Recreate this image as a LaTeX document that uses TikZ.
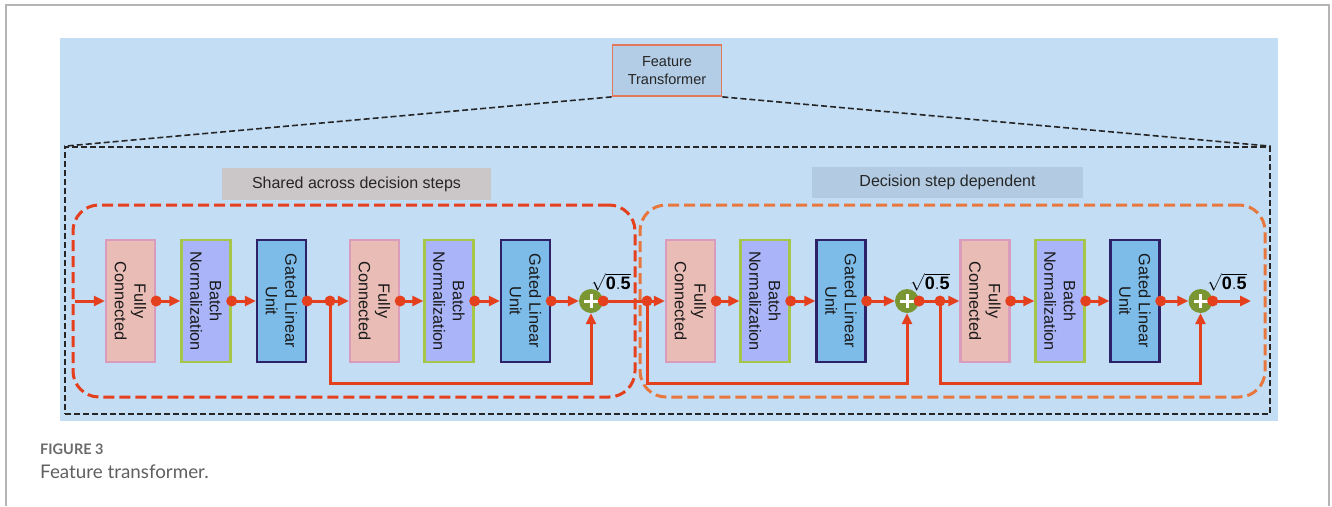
\documentclass[tikz,border=0pt]{standalone}
\usepackage{fontspec}
\setmainfont{Liberation Sans}
\newfontfamily\capfont{Lato}
\usetikzlibrary{arrows.meta,calc}

\definecolor{bgblue}{HTML}{C3DDF5}
\definecolor{ftfill}{HTML}{B3CDE6}
\definecolor{ftborder}{HTML}{E2775A}
\definecolor{sharedfill}{HTML}{CBC6C8}
\definecolor{depfill}{HTML}{B2CBE2}
\definecolor{flowred}{HTML}{E5401E}
\definecolor{grporange}{HTML}{E8773E}
\definecolor{fcfill}{HTML}{E9BDB6}
\definecolor{fcborder}{HTML}{D99CBC}
\definecolor{bnfill}{HTML}{A9B5F8}
\definecolor{bnborder}{HTML}{A6C64A}
\definecolor{glufill}{HTML}{7DBBE9}
\definecolor{gluborder}{HTML}{2D2169}
\definecolor{plusgreen}{HTML}{7A9633}
\definecolor{framegray}{HTML}{B4B4B4}
\definecolor{capgray}{HTML}{6B6B6B}

\tikzset{
  blockbase/.style={draw, line width=2.4pt, minimum width=49pt, minimum height=122pt, inner sep=0pt},
  fcbox/.style={blockbase, fill=fcfill, draw=fcborder},
  bnbox/.style={blockbase, fill=bnfill, draw=bnborder},
  glubox/.style={blockbase, fill=glufill, draw=gluborder},
  blocktext/.style={rotate=-90, align=center, font=\fontsize{16.3}{19.5}\selectfont, text=black!90},
  plusnode/.style={circle, fill=plusgreen, minimum size=24pt, inner sep=0pt,
    path picture={\draw[white, line width=3pt]
      ([xshift=5pt]path picture bounding box.west) -- ([xshift=-5pt]path picture bounding box.east)
      ([yshift=-5pt]path picture bounding box.north) -- ([yshift=5pt]path picture bounding box.south);}},
  sqrtlbl/.style={font=\fontsize{18}{21}\selectfont, inner sep=0pt},
  flow/.style={draw=flowred, line width=3pt, -{Triangle[length=11pt,width=10pt]}},
  blackdash/.style={draw=black!85, line width=1.6pt, dash pattern=on 6pt off 3pt},
  grpbox/.style={line width=3pt, dash pattern=on 11pt off 5pt, rounded corners=26pt, inner sep=0pt},
  tagbox/.style={font=\fontsize{16}{19}\selectfont, text=black!85, inner sep=0pt}
}

\newcommand{\flowdot}[1]{\fill[flowred] (#1) circle (5.5pt);}

\begin{document}
\begin{tikzpicture}[x=1pt,y=-1pt]
\useasboundingbox (0,0) rectangle (1332,506);
\fill[white] (0,0) rectangle (1332,506);

% page frame
\draw[framegray, line width=1.4pt] (6,506) -- (6,5) -- (1329,5) -- (1329,506);

% figure background
\fill[bgblue] (60,38) rectangle (1278,421);

% zoomed-out block and its expansion
\node[draw=ftborder, fill=ftfill, line width=1.8pt, minimum width=109pt, minimum height=51pt,
      align=center, font=\fontsize{14.5}{18.5}\selectfont, text=black!85, inner sep=0pt] (ft) at (667,70.5) {Feature\\Transformer};
\node[blackdash, minimum width=1205pt, minimum height=267pt, inner sep=0pt] (zoomframe) at (667.5,280.5) {};
\draw[blackdash] (ft.south west) -- (zoomframe.north west);
\draw[blackdash] (ft.south east) -- (zoomframe.north east);

% group frames
\node[grpbox, draw=flowred, minimum width=562pt, minimum height=192pt] (sharedgrp) at (354,301) {};
\node[grpbox, draw=grporange, minimum width=625pt, minimum height=192pt] (depgrp) at (952.5,301) {};

% group titles
\node[tagbox, fill=sharedfill, minimum width=269pt, minimum height=32pt] (sharedtag) at (356.5,184) {Shared across decision steps};
\node[tagbox, fill=depfill, minimum width=271pt, minimum height=31pt] (deptag) at (947.5,182.5) {Decision step dependent};

% blocks, shared part
\node[fcbox]  (fc1)  at (130.5,301) {};
\node[bnbox]  (bn1)  at (206,301) {};
\node[glubox] (glu1) at (281.5,301) {};
\node[fcbox]  (fc2)  at (374.5,301) {};
\node[bnbox]  (bn2)  at (449,301) {};
\node[glubox] (glu2) at (525.5,301) {};
\node[plusnode] (p1) at (591,301) {};

% blocks, step-dependent part
\node[fcbox]  (fc3)  at (690.5,301) {};
\node[bnbox]  (bn3)  at (765,301) {};
\node[glubox] (glu3) at (841,301) {};
\node[plusnode] (p2) at (907,301) {};
\node[fcbox]  (fc4)  at (985,301) {};
\node[bnbox]  (bn4)  at (1060,301) {};
\node[glubox] (glu4) at (1135,301) {};
\node[plusnode] (p3) at (1200.5,301) {};

% block captions
\foreach \b in {fc1,fc2,fc3,fc4} {\node[blocktext] at (\b) {Fully\\Connected};}
\foreach \b in {bn1,bn2,bn3,bn4} {\node[blocktext] at (\b) {Batch\\Normalization};}
\foreach \b in {glu1,glu2,glu3,glu4} {\node[blocktext] at (\b) {Gated Linear\\Unit};}

% scaling factors
\node[sqrtlbl] (s1) at (611,282) {$\sqrt{\mathbf{0.5}}$};
\node[sqrtlbl] (s2) at (930,282) {$\sqrt{\mathbf{0.5}}$};
\node[sqrtlbl] (s3) at (1227,282) {$\sqrt{\mathbf{0.5}}$};

% branch and end points
\coordinate (in)  at (75,301);
\coordinate (out) at (1251,301);
\coordinate (b1) at (330,301);
\coordinate (b2) at (647,301);
\coordinate (b3) at (940,301);
\coordinate (l1) at (330,383);
\coordinate (l2) at (647,383);
\coordinate (l3) at (940,383);

% main flow
\draw[flow] (in) -- (fc1.west);
\draw[flow] (fc1.east) -- (bn1.west);
\draw[flow] (bn1.east) -- (glu1.west);
\draw[flow] (glu1.east) -- (fc2.west);
\draw[flow] (fc2.east) -- (bn2.west);
\draw[flow] (bn2.east) -- (glu2.west);
\draw[flow] (glu2.east) -- (p1.west);
\draw[flow] (p1.east) -- (fc3.west);
\draw[flow] (fc3.east) -- (bn3.west);
\draw[flow] (bn3.east) -- (glu3.west);
\draw[flow] (glu3.east) -- (p2.west);
\draw[flow] (p2.east) -- (fc4.west);
\draw[flow] (fc4.east) -- (bn4.west);
\draw[flow] (bn4.east) -- (glu4.west);
\draw[flow] (glu4.east) -- (p3.west);
\draw[flow] (p3.east) -- (out);

% residual connections
\draw[flow] (b1) -- (l1) -| (p1.south);
\draw[flow] (b2) -- (l2) -| (p2.south);
\draw[flow] (b3) -- (l3) -| (p3.south);

% junction dots
\foreach \d in {fc1.east,bn1.east,glu1.east,fc2.east,bn2.east,glu2.east,fc3.east,bn3.east,glu3.east,fc4.east,bn4.east,glu4.east,p1.east,p2.east,p3.east,b1,b2,b3} {\flowdot{\d}}

% caption
\node[anchor=base west, inner sep=0pt, font=\capfont\bfseries\fontsize{14.5}{17}\selectfont, text=capgray] (capnum) at (40,454) {FIGURE 3};
\node[anchor=base west, inner sep=0pt, font=\capfont\fontsize{18.8}{21}\selectfont, text=capgray!90!black] (captext) at (40,478) {Feature transformer.};
\end{tikzpicture}
\end{document}
